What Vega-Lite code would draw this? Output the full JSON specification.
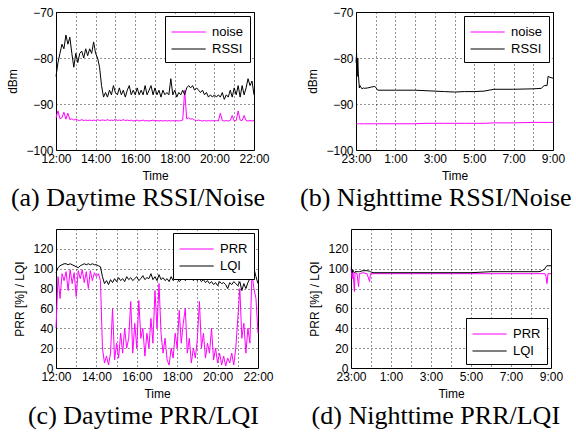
{
  "$schema": "https://vega.github.io/schema/vega-lite/v6.json",
  "padding": {"left": 6, "top": 5, "right": 3, "bottom": 4},
  "background": "white",
  "datasets": {
    "day": [
      {"t": 12.0, "RSSI": -84, "noise": -93.0, "PRR": 40, "LQI": 96},
      {"t": 12.1, "RSSI": -81, "noise": -91.5, "PRR": 92, "LQI": 101},
      {"t": 12.2, "RSSI": -79, "noise": -93.2, "PRR": 70, "LQI": 103},
      {"t": 12.3, "RSSI": -77, "noise": -93.0, "PRR": 95, "LQI": 104},
      {"t": 12.4, "RSSI": -78, "noise": -91.8, "PRR": 88, "LQI": 105},
      {"t": 12.5, "RSSI": -75, "noise": -93.3, "PRR": 97, "LQI": 105},
      {"t": 12.6, "RSSI": -77, "noise": -92.0, "PRR": 78, "LQI": 104},
      {"t": 12.7, "RSSI": -75.5, "noise": -93.4, "PRR": 99, "LQI": 105},
      {"t": 12.8, "RSSI": -79, "noise": -93.2, "PRR": 85, "LQI": 104},
      {"t": 12.9, "RSSI": -82, "noise": -93.5, "PRR": 96, "LQI": 103},
      {"t": 13.0, "RSSI": -79, "noise": -93.3, "PRR": 72, "LQI": 102},
      {"t": 13.1, "RSSI": -81, "noise": -93.5, "PRR": 98, "LQI": 101},
      {"t": 13.2, "RSSI": -79, "noise": -93.6, "PRR": 90, "LQI": 103},
      {"t": 13.3, "RSSI": -78.5, "noise": -93.4, "PRR": 99, "LQI": 104},
      {"t": 13.4, "RSSI": -80, "noise": -93.6, "PRR": 86, "LQI": 105},
      {"t": 13.5, "RSSI": -78, "noise": -93.5, "PRR": 97, "LQI": 104},
      {"t": 13.6, "RSSI": -79.5, "noise": -93.6, "PRR": 80, "LQI": 105},
      {"t": 13.7, "RSSI": -78, "noise": -93.5, "PRR": 98, "LQI": 104},
      {"t": 13.8, "RSSI": -79, "noise": -93.6, "PRR": 88, "LQI": 105},
      {"t": 13.9, "RSSI": -76.5, "noise": -93.5, "PRR": 96, "LQI": 104},
      {"t": 14.0, "RSSI": -79, "noise": -93.6, "PRR": 92, "LQI": 104},
      {"t": 14.1, "RSSI": -80, "noise": -93.4, "PRR": 95, "LQI": 103},
      {"t": 14.2, "RSSI": -82, "noise": -93.6, "PRR": 88, "LQI": 102},
      {"t": 14.3, "RSSI": -86, "noise": -93.5, "PRR": 20, "LQI": 92},
      {"t": 14.4, "RSSI": -88.5, "noise": -93.5, "PRR": 5, "LQI": 85},
      {"t": 14.5, "RSSI": -87.5, "noise": -93.6, "PRR": 12, "LQI": 88},
      {"t": 14.6, "RSSI": -88.5, "noise": -93.4, "PRR": 3, "LQI": 84},
      {"t": 14.7, "RSSI": -87, "noise": -93.6, "PRR": 15, "LQI": 89},
      {"t": 14.8, "RSSI": -88, "noise": -93.5, "PRR": 60, "LQI": 86},
      {"t": 14.9, "RSSI": -86, "noise": -93.6, "PRR": 8, "LQI": 90},
      {"t": 15.0, "RSSI": -87.5, "noise": -93.3, "PRR": 25, "LQI": 87},
      {"t": 15.1, "RSSI": -88, "noise": -93.6, "PRR": 10, "LQI": 91},
      {"t": 15.2, "RSSI": -86.5, "noise": -93.5, "PRR": 35, "LQI": 88},
      {"t": 15.3, "RSSI": -88, "noise": -93.6, "PRR": 15, "LQI": 90},
      {"t": 15.4, "RSSI": -87, "noise": -93.4, "PRR": 40, "LQI": 87},
      {"t": 15.5, "RSSI": -88.5, "noise": -93.6, "PRR": 20, "LQI": 92},
      {"t": 15.6, "RSSI": -87, "noise": -93.5, "PRR": 30, "LQI": 89},
      {"t": 15.7, "RSSI": -86, "noise": -93.6, "PRR": 67, "LQI": 91},
      {"t": 15.8, "RSSI": -88, "noise": -93.5, "PRR": 15, "LQI": 88},
      {"t": 15.9, "RSSI": -87, "noise": -93.7, "PRR": 45, "LQI": 90},
      {"t": 16.0, "RSSI": -88, "noise": -93.6, "PRR": 20, "LQI": 92},
      {"t": 16.1, "RSSI": -86.5, "noise": -93.5, "PRR": 68, "LQI": 88},
      {"t": 16.2, "RSSI": -88, "noise": -93.7, "PRR": 30, "LQI": 90},
      {"t": 16.3, "RSSI": -87, "noise": -93.6, "PRR": 40, "LQI": 93},
      {"t": 16.4, "RSSI": -88, "noise": -93.5, "PRR": 12, "LQI": 89},
      {"t": 16.5, "RSSI": -86, "noise": -93.7, "PRR": 35, "LQI": 91},
      {"t": 16.6, "RSSI": -88, "noise": -93.6, "PRR": 20, "LQI": 90},
      {"t": 16.7, "RSSI": -87, "noise": -93.7, "PRR": 50, "LQI": 95},
      {"t": 16.8, "RSSI": -86, "noise": -93.6, "PRR": 25, "LQI": 89},
      {"t": 16.9, "RSSI": -88, "noise": -93.5, "PRR": 78, "LQI": 92},
      {"t": 17.0, "RSSI": -86.5, "noise": -93.7, "PRR": 40, "LQI": 88},
      {"t": 17.1, "RSSI": -88, "noise": -93.6, "PRR": 85, "LQI": 94},
      {"t": 17.2, "RSSI": -87, "noise": -93.7, "PRR": 35, "LQI": 89},
      {"t": 17.3, "RSSI": -88.5, "noise": -93.6, "PRR": 15, "LQI": 91},
      {"t": 17.4, "RSSI": -87, "noise": -93.7, "PRR": 30, "LQI": 88},
      {"t": 17.5, "RSSI": -88, "noise": -93.6, "PRR": 8, "LQI": 90},
      {"t": 17.6, "RSSI": -87.5, "noise": -93.7, "PRR": 3, "LQI": 87},
      {"t": 17.7, "RSSI": -88, "noise": -93.6, "PRR": 20, "LQI": 92},
      {"t": 17.8, "RSSI": -84.5, "noise": -93.7, "PRR": 10, "LQI": 88},
      {"t": 17.9, "RSSI": -88, "noise": -93.6, "PRR": 35, "LQI": 90},
      {"t": 18.0, "RSSI": -87, "noise": -93.7, "PRR": 20, "LQI": 91},
      {"t": 18.1, "RSSI": -88.5, "noise": -93.6, "PRR": 58, "LQI": 87},
      {"t": 18.2, "RSSI": -87.5, "noise": -93.7, "PRR": 25, "LQI": 89},
      {"t": 18.3, "RSSI": -88, "noise": -93.6, "PRR": 45, "LQI": 92},
      {"t": 18.4, "RSSI": -87, "noise": -93.5, "PRR": 60, "LQI": 88},
      {"t": 18.5, "RSSI": -88, "noise": -87, "PRR": 15, "LQI": 90},
      {"t": 18.6, "RSSI": -86.5, "noise": -93.2, "PRR": 30, "LQI": 89},
      {"t": 18.7, "RSSI": -86, "noise": -93.0, "PRR": 5, "LQI": 91},
      {"t": 18.8, "RSSI": -86.5, "noise": -93.3, "PRR": 20, "LQI": 88},
      {"t": 18.9, "RSSI": -86, "noise": -93.2, "PRR": 10, "LQI": 90},
      {"t": 19.0, "RSSI": -87, "noise": -93.5, "PRR": 30, "LQI": 88},
      {"t": 19.1, "RSSI": -86.5, "noise": -93.6, "PRR": 67, "LQI": 90},
      {"t": 19.2, "RSSI": -87, "noise": -93.5, "PRR": 20, "LQI": 87},
      {"t": 19.3, "RSSI": -87.5, "noise": -93.6, "PRR": 35, "LQI": 89},
      {"t": 19.4, "RSSI": -87, "noise": -93.7, "PRR": 10, "LQI": 86},
      {"t": 19.5, "RSSI": -88, "noise": -93.6, "PRR": 25, "LQI": 88},
      {"t": 19.6, "RSSI": -87.5, "noise": -93.7, "PRR": 15, "LQI": 85},
      {"t": 19.7, "RSSI": -88.5, "noise": -93.6, "PRR": 40, "LQI": 87},
      {"t": 19.8, "RSSI": -88, "noise": -93.7, "PRR": 8, "LQI": 84},
      {"t": 19.9, "RSSI": -88.5, "noise": -93.6, "PRR": 20, "LQI": 86},
      {"t": 20.0, "RSSI": -88, "noise": -93.7, "PRR": 5, "LQI": 83},
      {"t": 20.1, "RSSI": -88.5, "noise": -93.6, "PRR": 15, "LQI": 87},
      {"t": 20.2, "RSSI": -88, "noise": -93.7, "PRR": 3, "LQI": 85},
      {"t": 20.3, "RSSI": -88.5, "noise": -92.0, "PRR": 12, "LQI": 86},
      {"t": 20.4, "RSSI": -87.5, "noise": -93.6, "PRR": 2, "LQI": 84},
      {"t": 20.5, "RSSI": -89, "noise": -93.7, "PRR": 10, "LQI": 80},
      {"t": 20.6, "RSSI": -88, "noise": -93.6, "PRR": 5, "LQI": 86},
      {"t": 20.7, "RSSI": -88.5, "noise": -93.7, "PRR": 15, "LQI": 84},
      {"t": 20.8, "RSSI": -87, "noise": -93.6, "PRR": 3, "LQI": 87},
      {"t": 20.9, "RSSI": -88.5, "noise": -92.5, "PRR": 20, "LQI": 85},
      {"t": 21.0, "RSSI": -86.5, "noise": -93.7, "PRR": 50, "LQI": 83},
      {"t": 21.1, "RSSI": -88, "noise": -93.6, "PRR": 80, "LQI": 87},
      {"t": 21.2, "RSSI": -86, "noise": -91.5, "PRR": 30, "LQI": 78},
      {"t": 21.3, "RSSI": -88.5, "noise": -93.5, "PRR": 45, "LQI": 85},
      {"t": 21.4, "RSSI": -86, "noise": -93.6, "PRR": 15, "LQI": 80},
      {"t": 21.5, "RSSI": -88, "noise": -92.5, "PRR": 40, "LQI": 86},
      {"t": 21.6, "RSSI": -86.5, "noise": -93.6, "PRR": 25, "LQI": 90},
      {"t": 21.7, "RSSI": -84.5, "noise": -93.7, "PRR": 95, "LQI": 96},
      {"t": 21.8, "RSSI": -86, "noise": -93.6, "PRR": 80, "LQI": 100},
      {"t": 21.9, "RSSI": -85, "noise": -93.7, "PRR": 70, "LQI": 92},
      {"t": 22.0, "RSSI": -88, "noise": -93.6, "PRR": 35, "LQI": 85}
    ],
    "night": [
      {"t": 23.0, "RSSI": -81, "noise": -94.3, "PRR": 100, "LQI": 101},
      {"t": 23.03, "RSSI": -79, "noise": -94.3, "PRR": 96, "LQI": 100},
      {"t": 23.06, "RSSI": -84, "noise": -94.3, "PRR": 90, "LQI": 96},
      {"t": 23.09, "RSSI": -80, "noise": -94.3, "PRR": 98, "LQI": 99},
      {"t": 23.12, "RSSI": -83.5, "noise": -94.3, "PRR": 92, "LQI": 97},
      {"t": 23.17, "RSSI": -86.5, "noise": -94.3, "PRR": 77, "LQI": 96},
      {"t": 23.2, "RSSI": -86, "noise": -94.3, "PRR": 96, "LQI": 97},
      {"t": 23.3, "RSSI": -86.7, "noise": -94.3, "PRR": 95, "LQI": 97},
      {"t": 23.38, "RSSI": -86.5, "noise": -94.3, "PRR": 82, "LQI": 97},
      {"t": 23.42, "RSSI": -86.6, "noise": -94.3, "PRR": 95, "LQI": 97},
      {"t": 23.6, "RSSI": -86.5, "noise": -94.3, "PRR": 96, "LQI": 98},
      {"t": 23.8, "RSSI": -86.3, "noise": -94.3, "PRR": 95, "LQI": 98},
      {"t": 23.93, "RSSI": -86.2, "noise": -94.3, "PRR": 87, "LQI": 97.5},
      {"t": 23.97, "RSSI": -86.2, "noise": -94.3, "PRR": 95, "LQI": 97},
      {"t": 24.1, "RSSI": -87, "noise": -94.3, "PRR": 95, "LQI": 96},
      {"t": 25.0, "RSSI": -87, "noise": -94.3, "PRR": 95, "LQI": 96},
      {"t": 26.0, "RSSI": -87, "noise": -94.3, "PRR": 95, "LQI": 96},
      {"t": 26.5, "RSSI": -87.1, "noise": -94.2, "PRR": 95, "LQI": 96},
      {"t": 27.5, "RSSI": -87.3, "noise": -94.2, "PRR": 95, "LQI": 96},
      {"t": 28.0, "RSSI": -87.4, "noise": -94.2, "PRR": 95, "LQI": 96},
      {"t": 28.5, "RSSI": -87.3, "noise": -94.2, "PRR": 95, "LQI": 96},
      {"t": 29.0, "RSSI": -87.3, "noise": -94.2, "PRR": 95, "LQI": 96},
      {"t": 29.5, "RSSI": -87.2, "noise": -94.2, "PRR": 95, "LQI": 96.5},
      {"t": 30.0, "RSSI": -86.8, "noise": -94.1, "PRR": 95, "LQI": 97},
      {"t": 31.0, "RSSI": -86.8, "noise": -94.1, "PRR": 95, "LQI": 97},
      {"t": 32.0, "RSSI": -86.7, "noise": -94.0, "PRR": 95, "LQI": 97},
      {"t": 32.4, "RSSI": -86.6, "noise": -94.0, "PRR": 95, "LQI": 97},
      {"t": 32.55, "RSSI": -86, "noise": -94.0, "PRR": 95, "LQI": 98},
      {"t": 32.7, "RSSI": -86, "noise": -94.0, "PRR": 95, "LQI": 100},
      {"t": 32.75, "RSSI": -84, "noise": -94.0, "PRR": 92, "LQI": 102},
      {"t": 32.8, "RSSI": -84.1, "noise": -94.0, "PRR": 85, "LQI": 103},
      {"t": 32.85, "RSSI": -84.2, "noise": -94.0, "PRR": 95, "LQI": 103},
      {"t": 33.0, "RSSI": -84.4, "noise": -94.0, "PRR": 95, "LQI": 103}
    ]
  },
  "vconcat": [
    {
      "hconcat": [
        {
          "width": 198, "height": 138,
          "title": {"text": "(a) Daytime RSSI/Noise"},
          "data": {"name": "day"},
          "transform": [{"fold": ["noise", "RSSI"], "as": ["series", "value"]}],
          "mark": {"type": "line", "strokeWidth": 1},
          "encoding": {
            "x": {"field": "t", "type": "quantitative", "scale": {"domain": [12, 22], "nice": false, "zero": false},
                  "axis": {"title": "Time", "values": [12, 13, 14, 15, 16, 17, 18, 19, 20, 21, 22], "labelExpr": "datum.value % 2 == 0 ? datum.value + ':00' : ''"}},
            "y": {"field": "value", "type": "quantitative", "scale": {"domain": [-100, -70], "nice": false, "zero": false},
                  "axis": {"title": "dBm", "values": [-100, -90, -80, -70]}},
            "color": {"field": "series", "type": "nominal", "scale": {"domain": ["noise", "RSSI"], "range": ["#ff00ff", "#000000"]},
                      "legend": {"title": null, "orient": "top-right"}}
          }
        },
        {
          "width": 197, "height": 138,
          "title": {"text": "(b) Nighttime RSSI/Noise"},
          "data": {"name": "night"},
          "transform": [{"fold": ["noise", "RSSI"], "as": ["series", "value"]}],
          "mark": {"type": "line", "strokeWidth": 1},
          "encoding": {
            "x": {"field": "t", "type": "quantitative", "scale": {"domain": [23, 33], "nice": false, "zero": false},
                  "axis": {"title": "Time", "values": [23, 24, 25, 26, 27, 28, 29, 30, 31, 32, 33], "labelExpr": "datum.value % 2 == 1 ? (datum.value % 24) + ':00' : ''"}},
            "y": {"field": "value", "type": "quantitative", "scale": {"domain": [-100, -70], "nice": false, "zero": false},
                  "axis": {"title": "dBm", "values": [-100, -90, -80, -70]}},
            "color": {"field": "series", "type": "nominal", "scale": {"domain": ["noise", "RSSI"], "range": ["#ff00ff", "#000000"]},
                      "legend": {"title": null, "orient": "top-right"}}
          }
        }
      ],
      "spacing": 29,
      "resolve": {"scale": {"x": "independent", "y": "independent", "color": "independent"}, "legend": {"color": "independent"}}
    },
    {
      "hconcat": [
        {
          "width": 202, "height": 139,
          "title": {"text": "(c) Daytime PRR/LQI"},
          "data": {"name": "day"},
          "transform": [{"fold": ["PRR", "LQI"], "as": ["series", "value"]}],
          "mark": {"type": "line", "strokeWidth": 1},
          "encoding": {
            "x": {"field": "t", "type": "quantitative", "scale": {"domain": [12, 22], "nice": false, "zero": false},
                  "axis": {"title": "Time", "values": [12, 13, 14, 15, 16, 17, 18, 19, 20, 21, 22], "labelExpr": "datum.value % 2 == 0 ? datum.value + ':00' : ''"}},
            "y": {"field": "value", "type": "quantitative", "scale": {"domain": [0, 140], "nice": false, "zero": false},
                  "axis": {"title": "PRR [%] / LQI", "values": [0, 20, 40, 60, 80, 100, 120]}},
            "color": {"field": "series", "type": "nominal", "scale": {"domain": ["PRR", "LQI"], "range": ["#ff00ff", "#000000"]},
                      "legend": {"title": null, "orient": "top-right"}}
          }
        },
        {
          "width": 200, "height": 139,
          "title": {"text": "(d) Nighttime PRR/LQI"},
          "data": {"name": "night"},
          "transform": [{"fold": ["PRR", "LQI"], "as": ["series", "value"]}],
          "mark": {"type": "line", "strokeWidth": 1},
          "encoding": {
            "x": {"field": "t", "type": "quantitative", "scale": {"domain": [23, 33], "nice": false, "zero": false},
                  "axis": {"title": "Time", "values": [23, 24, 25, 26, 27, 28, 29, 30, 31, 32, 33], "labelExpr": "datum.value % 2 == 1 ? (datum.value % 24) + ':00' : ''"}},
            "y": {"field": "value", "type": "quantitative", "scale": {"domain": [0, 140], "nice": false, "zero": false},
                  "axis": {"title": "PRR [%] / LQI", "values": [0, 20, 40, 60, 80, 100, 120]}},
            "color": {"field": "series", "type": "nominal", "scale": {"domain": ["PRR", "LQI"], "range": ["#ff00ff", "#000000"]},
                      "legend": {"title": null, "orient": "bottom-right"}}
          }
        }
      ],
      "spacing": 34,
      "resolve": {"scale": {"x": "independent", "y": "independent", "color": "independent"}, "legend": {"color": "independent"}}
    }
  ],
  "spacing": 16,
  "resolve": {"scale": {"x": "independent", "y": "independent", "color": "independent"}, "legend": {"color": "independent"}},
  "config": {
    "view": {"stroke": "black", "strokeWidth": 1},
    "axis": {
      "labelFont": "Liberation Sans", "labelFontSize": 12, "labelColor": "black",
      "titleFont": "Liberation Sans", "titleFontSize": 12, "titleFontWeight": "normal", "titleColor": "black",
      "ticks": false, "domain": false, "labelFlush": false, "labelOverlap": false,
      "gridColor": "black", "gridDash": [1, 3], "gridOpacity": 0.85, "gridWidth": 1,
      "labelPadding": 3
    },
    "axisX": {"titlePadding": 6},
    "axisY": {"titlePadding": 6},
    "legend": {
      "fillColor": "white", "strokeColor": "black", "padding": 6, "offset": 4,
      "labelFont": "Liberation Sans", "labelFontSize": 13, "labelColor": "black",
      "symbolType": "M-1,0H2.6", "symbolSize": 361, "symbolStrokeWidth": 1, "symbolFillColor": "transparent", "rowPadding": 0, "labelOffset": 21
    },
    "title": {"font": "Liberation Serif", "fontSize": 26, "fontWeight": "normal", "orient": "bottom", "color": "black", "offset": 4, "frame": "bounds"}
  }
}
